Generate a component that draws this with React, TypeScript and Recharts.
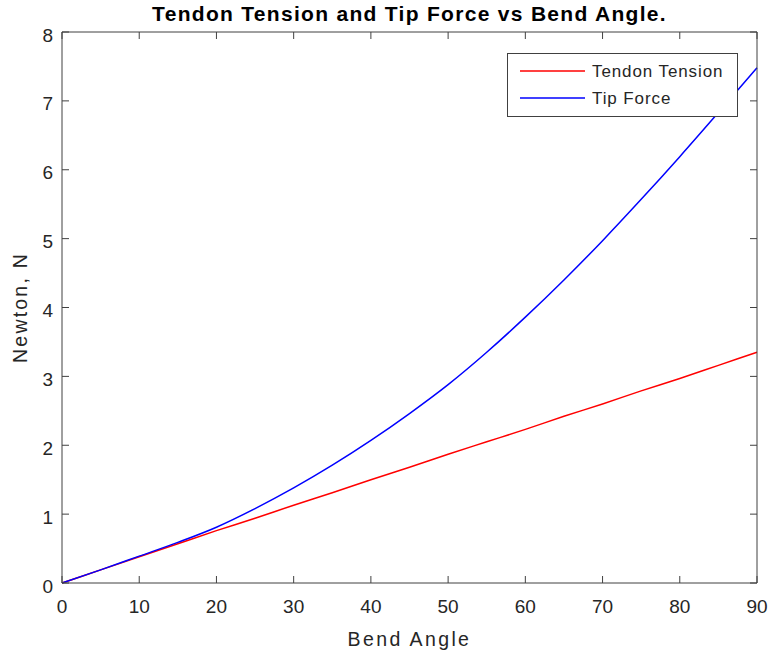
import { LineChart, Line, XAxis, YAxis, Legend, Label } from "recharts";

// bend angle (deg) vs force (N)
const angles = [0, 5, 10, 15, 20, 25, 30, 35, 40, 45, 50, 55, 60, 65, 70, 75, 80, 85, 90];
const tendonTension = [0, 0.19, 0.38, 0.57, 0.76, 0.94, 1.13, 1.31, 1.5, 1.68, 1.87, 2.05, 2.23, 2.42, 2.6, 2.79, 2.97, 3.16, 3.35];
const tipForce = [0, 0.19, 0.39, 0.59, 0.81, 1.08, 1.38, 1.71, 2.07, 2.46, 2.88, 3.35, 3.86, 4.4, 4.97, 5.57, 6.19, 6.83, 7.48];

const xTicks = [0, 10, 20, 30, 40, 50, 60, 70, 80, 90];
const yTicks = [0, 1, 2, 3, 4, 5, 6, 7, 8];

const rows = angles.map((angle, i) => ({
  angle,
  tension: tendonTension[i],
  tip: tipForce[i],
}));

const AXIS = "#404040";
const TEXT = "#262626";
const FONT = "'Liberation Sans', Arial, Helvetica, sans-serif";
const TICK_LEN = 7;

// ticks point into the plot box, like a boxed axes
function BottomTick(props: any) {
  const { x, y, payload } = props;
  return (
    <g>
      <line x1={x} x2={x} y1={y} y2={y - TICK_LEN} stroke={AXIS} />
      <text x={x} y={y + 30} textAnchor="middle" fontSize={19} fontFamily={FONT} fill={TEXT}>
        {payload.value}
      </text>
    </g>
  );
}

function TopTick(props: any) {
  const { x, y } = props;
  return <line x1={x} x2={x} y1={y} y2={y + TICK_LEN} stroke={AXIS} />;
}

function LeftTick(props: any) {
  const { x, y, payload } = props;
  return (
    <g>
      <line x1={x} x2={x + TICK_LEN} y1={y} y2={y} stroke={AXIS} />
      <text x={x - 9} y={y + 9.5} textAnchor="end" fontSize={19} fontFamily={FONT} fill={TEXT}>
        {payload.value}
      </text>
    </g>
  );
}

function RightTick(props: any) {
  const { x, y } = props;
  return <line x1={x} x2={x - TICK_LEN} y1={y} y2={y} stroke={AXIS} />;
}

function LegendBox(props: any) {
  const items = props.payload || [];
  return (
    <svg width={231} height={64} style={{ display: "block" }}>
      <rect x={0.5} y={0.5} width={230} height={63} fill="#fff" stroke={AXIS} />
      {items.map((item: any, i: number) => (
        <g key={item.value}>
          <line x1={13} x2={78} y1={18 + i * 27} y2={18 + i * 27} stroke={item.color} strokeWidth={1.5} />
          <text
            x={85}
            y={24 + i * 27}
            fontSize={17}
            fontFamily={FONT}
            fill={TEXT}
            letterSpacing={0.9}
          >
            {item.value}
          </text>
        </g>
      ))}
    </svg>
  );
}

export default function App() {
  return (
    <div style={{ position: "absolute", left: 0, top: 0, width: 769, height: 656, background: "#fff" }}>
      <LineChart width={769} height={656} data={rows} margin={{ top: 31, right: 11, bottom: 0, left: 0 }}>
        <XAxis
          dataKey="angle"
          type="number"
          domain={[0, 90]}
          ticks={xTicks}
          height={73}
          tickSize={0}
          tickMargin={0}
          tickLine={false}
          axisLine={{ stroke: AXIS }}
          tick={BottomTick}
        >
          <Label
            content={(p: any) => (
              <text
                x={p.viewBox.x + p.viewBox.width / 2}
                y={p.viewBox.y + 63}
                textAnchor="middle"
                fontSize={19.5}
                fontFamily={FONT}
                fill={TEXT}
                letterSpacing={2.4}
              >
                Bend Angle
              </text>
            )}
          />
        </XAxis>
        {/* top/right axes close the box; the tip force line is bound to them (same domains) */}
        <XAxis
          xAxisId="top"
          orientation="top"
          dataKey="angle"
          type="number"
          domain={[0, 90]}
          ticks={xTicks}
          height={1}
          tickSize={0}
          tickMargin={0}
          tickLine={false}
          axisLine={{ stroke: AXIS }}
          tick={TopTick}
        >
          <Label
            content={(p: any) => (
              <text
                x={p.viewBox.x + p.viewBox.width / 2}
                y={p.viewBox.y - 10}
                textAnchor="middle"
                fontSize={21}
                fontWeight="bold"
                fontFamily={FONT}
                fill="#000"
                letterSpacing={1.3}
              >
                Tendon Tension and Tip Force vs Bend Angle.
              </text>
            )}
          />
        </XAxis>
        <YAxis
          type="number"
          domain={[0, 8]}
          ticks={yTicks}
          width={62}
          tickSize={0}
          tickMargin={0}
          tickLine={false}
          axisLine={{ stroke: AXIS }}
          tick={LeftTick}
        >
          <Label
            content={(p: any) => {
              const cx = p.viewBox.x + 27;
              const cy = p.viewBox.y + p.viewBox.height / 2;
              return (
                <text
                  x={cx}
                  y={cy}
                  transform={`rotate(-90 ${cx} ${cy})`}
                  textAnchor="middle"
                  fontSize={19.5}
                  fontFamily={FONT}
                  fill={TEXT}
                  letterSpacing={2.2}
                >
                  Newton, N
                </text>
              );
            }}
          />
        </YAxis>
        <YAxis
          yAxisId="right"
          orientation="right"
          type="number"
          domain={[0, 8]}
          ticks={yTicks}
          width={1}
          tickSize={0}
          tickMargin={0}
          tickLine={false}
          axisLine={{ stroke: AXIS }}
          tick={RightTick}
        />
        <Legend
          layout="vertical"
          align="center"
          verticalAlign="middle"
          wrapperStyle={{ position: "absolute", left: 507, top: 53, width: 231, height: 64 }}
          content={LegendBox}
        />
        <Line
          type="monotone"
          dataKey="tension"
          name="Tendon Tension"
          stroke="#ff0000"
          strokeWidth={1.5}
          dot={false}
          isAnimationActive={false}
        />
        <Line
          type="monotone"
          dataKey="tip"
          name="Tip Force"
          xAxisId="top"
          yAxisId="right"
          stroke="#0000ff"
          strokeWidth={1.5}
          dot={false}
          isAnimationActive={false}
        />
      </LineChart>
    </div>
  );
}
